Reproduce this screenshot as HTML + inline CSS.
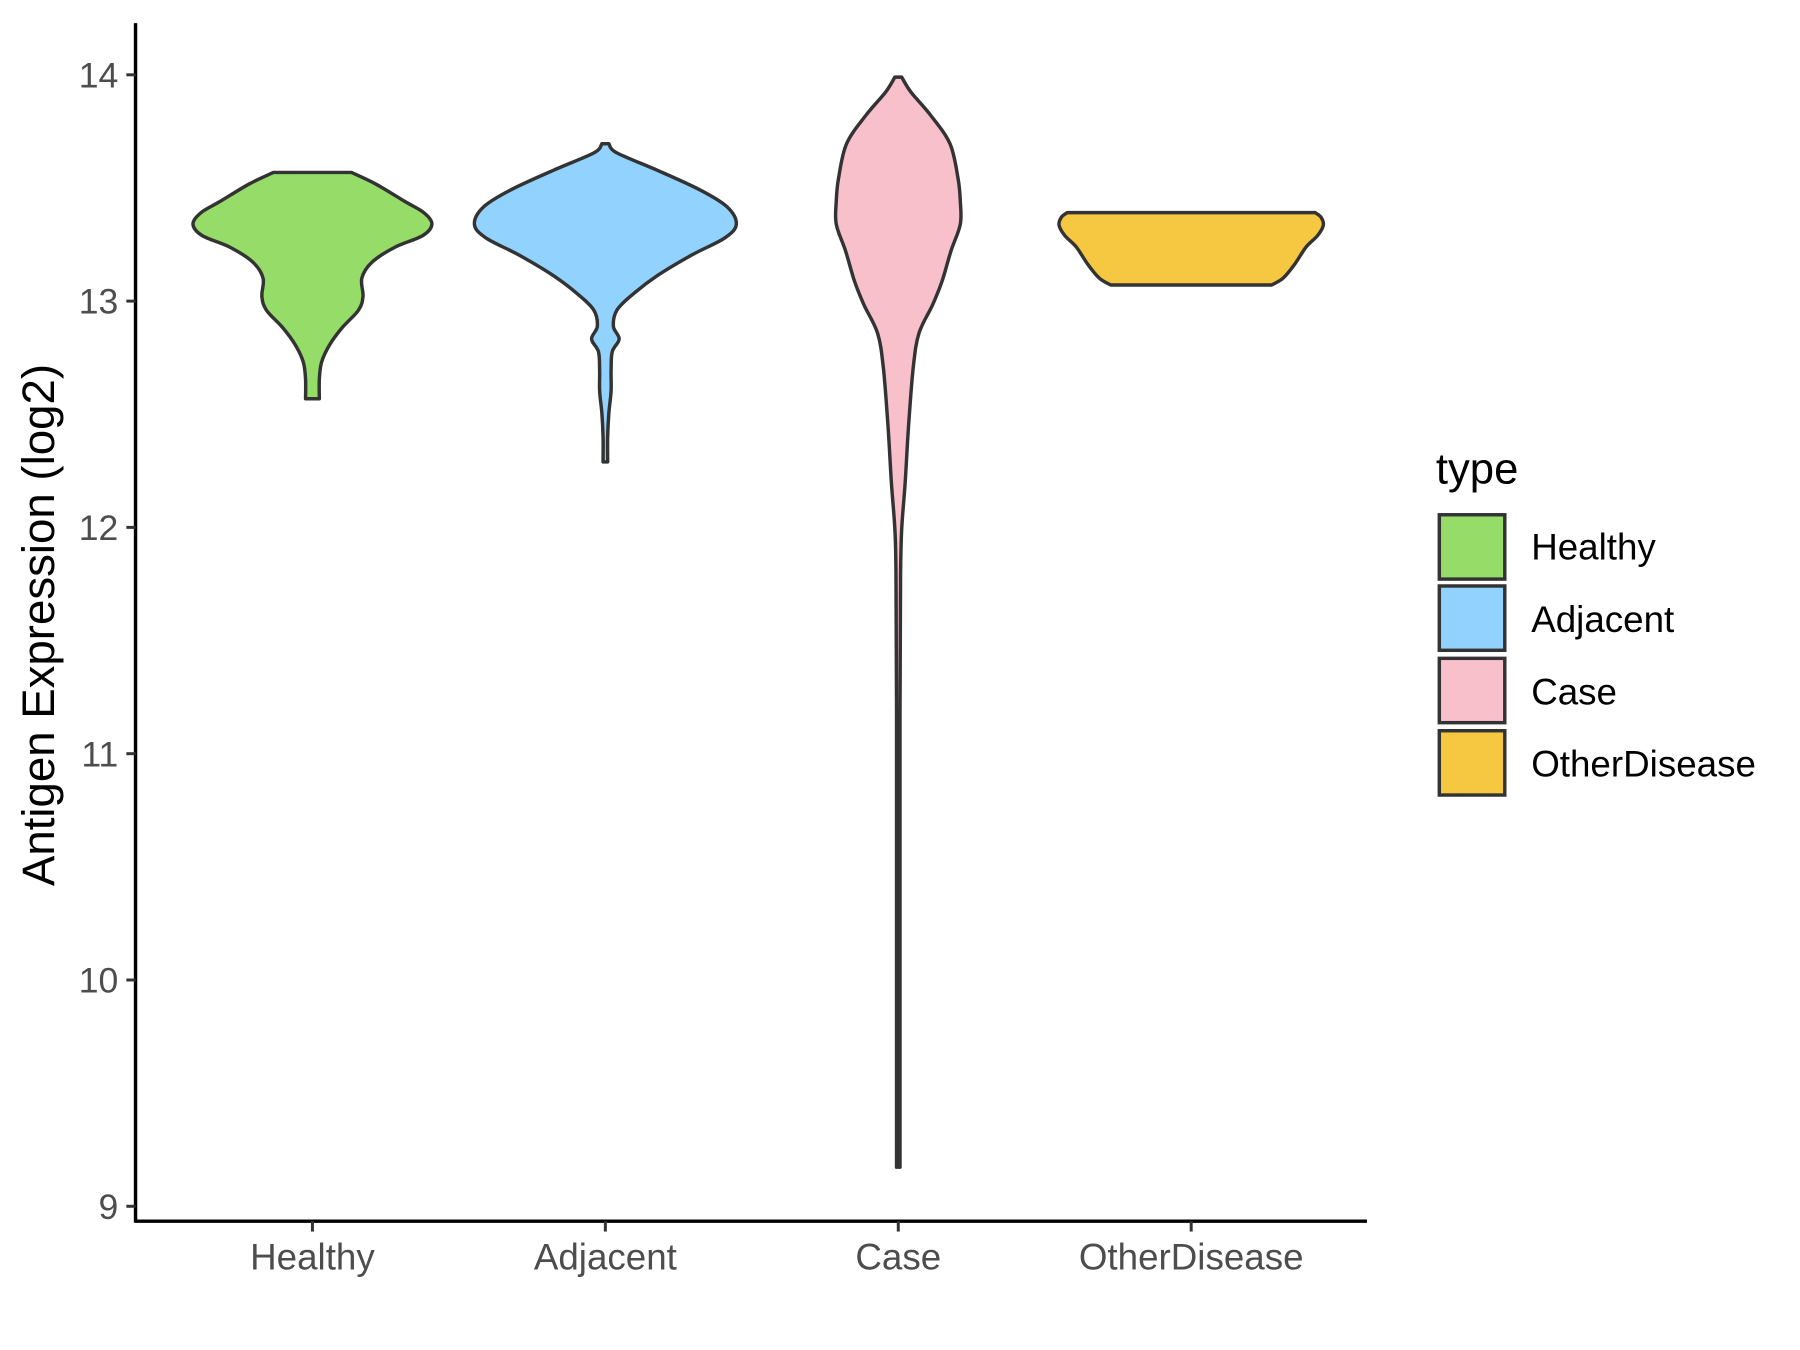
<!DOCTYPE html>
<html><head><meta charset="utf-8"><style>
html,body{margin:0;padding:0;background:#fff;}
svg{display:block;}
text{font-family:"Liberation Sans",sans-serif;}
</style></head><body>
<svg id="s" width="1800" height="1350" viewBox="0 0 1567 1175" xmlns="http://www.w3.org/2000/svg">
<rect width="1567" height="1175" fill="#fff"/>
<g id="v"></g>
<line x1="118" y1="20" x2="118" y2="1064" stroke="#000" stroke-width="3"/>
<line x1="117" y1="1063" x2="1190" y2="1063" stroke="#000" stroke-width="3"/>
<g stroke="#333" stroke-width="2.6">
<line x1="110" y1="65" x2="118" y2="65"/><line x1="110" y1="262" x2="118" y2="262"/>
<line x1="110" y1="459" x2="118" y2="459"/><line x1="110" y1="656" x2="118" y2="656"/>
<line x1="110" y1="853" x2="118" y2="853"/><line x1="110" y1="1050" x2="118" y2="1050"/>
<line x1="272" y1="1063" x2="272" y2="1072"/><line x1="527" y1="1063" x2="527" y2="1072"/>
<line x1="782" y1="1063" x2="782" y2="1072"/><line x1="1037" y1="1063" x2="1037" y2="1072"/>
</g>
<g fill="#4d4d4d" font-size="31" text-anchor="end">
<text x="103" y="76">14</text><text x="103" y="273">13</text><text x="103" y="470">12</text>
<text x="103" y="667">11</text><text x="103" y="864">10</text><text x="103" y="1061">9</text>
</g>
<g fill="#4d4d4d" font-size="32" text-anchor="middle">
<text x="272" y="1105">Healthy</text><text x="527" y="1105">Adjacent</text>
<text x="782" y="1105">Case</text><text x="1037" y="1105">OtherDisease</text>
</g>
<text transform="translate(47,544) rotate(-90)" font-size="39.7" text-anchor="middle" fill="#000">Antigen Expression (log2)</text>
<text x="1250" y="421" font-size="38" fill="#000">type</text>
<g stroke="#333" stroke-width="3">
<rect x="1253" y="448" width="57" height="56" fill="#95DC68"/>
<rect x="1253" y="510" width="57" height="56" fill="#92D2FF"/>
<rect x="1253" y="573" width="57" height="56" fill="#F7C0CB"/>
<rect x="1253" y="636" width="57" height="56" fill="#F6C740"/>
</g>
<g font-size="32" fill="#000">
<text x="1333" y="487">Healthy</text><text x="1333" y="550">Adjacent</text>
<text x="1333" y="613">Case</text><text x="1333" y="676">OtherDisease</text>
</g>
</svg>
<script>
function curve(a){
  var d="";
  for(var i=0;i<a.length-1;i++){
    var p0=a[Math.max(i-1,0)],p1=a[i],p2=a[i+1],p3=a[Math.min(i+2,a.length-1)];
    var c1=[p1[0]+(p2[0]-p0[0])/6,p1[1]+(p2[1]-p0[1])/6];
    var c2=[p2[0]-(p3[0]-p1[0])/6,p2[1]-(p3[1]-p1[1])/6];
    d+=" C"+c1[0].toFixed(1)+","+c1[1].toFixed(1)+" "+c2[0].toFixed(1)+","+c2[1].toFixed(1)+" "+p2[0].toFixed(1)+","+p2[1].toFixed(1);
  }
  return d;
}
function vio(cx,pts,fill){
  var R=[],L=[];
  pts.forEach(function(p){R.push([cx+p[1],p[0]]);});
  for(var i=pts.length-1;i>=0;i--)L.push([cx-pts[i][1],pts[i][0]]);
  var d="M"+R[0][0]+","+R[0][1]+curve(R)+" L"+L[0][0]+","+L[0][1]+curve(L)+"Z";
  var e=document.createElementNS("http://www.w3.org/2000/svg","path");
  e.setAttribute("d",d);e.setAttribute("fill",fill);e.setAttribute("stroke","#333");e.setAttribute("stroke-width","3");
  e.setAttribute("stroke-linejoin","round");
  document.getElementById("v").appendChild(e);
}
vio(272,[[150,34],[160,55],[175,80],[185,97],[195,104],[205,96],[215,72],[228,52],[242,43],[258,44],[270,40],[285,26],[300,15],[315,8],[330,6],[347,6]],"#95DC68");
vio(527,[[125,3],[133,10],[148,45],[165,82],[180,106],[195,114],[207,104],[222,75],[240,45],[256,24],[270,10],[284,7],[295,12],[306,6],[322,5],[340,5],[360,3],[380,2],[402,2]],"#92D2FF");
vio(782,[[67,3],[80,11],[100,28],[125,45],[155,52],[175,54],[195,54],[218,46],[245,38],[265,30],[290,18],[320,13],[370,9],[420,6],[460,3],[500,2],[620,1.5],[800,1.5],[1016,1.5]],"#F7C0CB");
vio(1037,[[185,108],[189,113],[196,115],[205,110],[215,100],[230,90],[242,80],[248,70]],"#F6C740");
</script>
</body></html>
